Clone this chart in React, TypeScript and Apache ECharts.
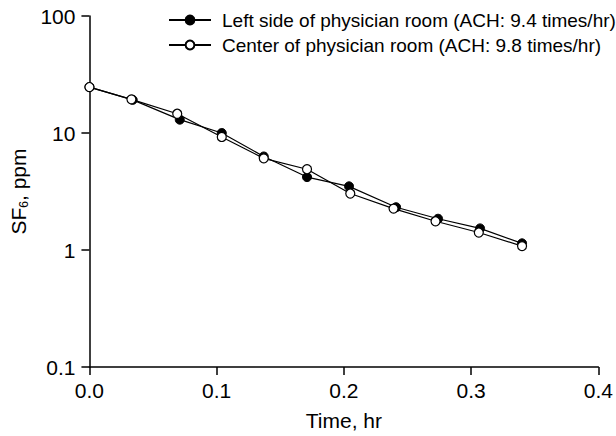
import React, { useEffect, useRef } from "react";
import * as echarts from "echarts";

const seriesNames = [
  "Left side of physician room (ACH: 9.4 times/hr)",
  "Center of physician room (ACH: 9.8 times/hr)",
];
const timeLeft = [0, 0.034, 0.071, 0.104, 0.137, 0.171, 0.204, 0.241, 0.274, 0.307, 0.34];
const sf6Left = [24.7, 19.2, 13.0, 10.0, 6.3, 4.2, 3.5, 2.32, 1.85, 1.53, 1.14];
const timeCenter = [0, 0.033, 0.069, 0.104, 0.137, 0.171, 0.205, 0.239, 0.272, 0.306, 0.34];
const sf6Center = [24.7, 19.4, 14.6, 9.25, 6.07, 4.9, 3.04, 2.26, 1.76, 1.41, 1.08];
const xTicks = { min: 0, max: 0.4, interval: 0.1 };
const yTicks = { min: 0.1, max: 100 };

const FONT = "Liberation Sans, Arial, Helvetica, sans-serif";

export default function App() {
  const ref = useRef<HTMLDivElement>(null);
  useEffect(() => {
    if (!ref.current) return;
    const chart = echarts.init(ref.current, undefined, { renderer: "svg" });
    const left = timeLeft.map((t, i) => [t, sf6Left[i]]);
    const center = timeCenter.map((t, i) => [t, sf6Center[i]]);
    chart.setOption({
      animation: false,
      backgroundColor: "#fff",
      textStyle: { fontFamily: FONT, color: "#000" },
      grid: { left: 86, right: 16, top: 16, bottom: 68, containLabel: false },
      legend: {
        orient: "vertical",
        left: 168,
        top: 10,
        padding: 0,
        itemWidth: 42,
        itemHeight: 11,
        itemGap: 5,
        textStyle: { fontFamily: FONT, fontSize: 19, color: "#000", lineHeight: 20, padding: [0, 0, 0, 6] },
        data: seriesNames,
      },
      xAxis: {
        type: "value",
        min: xTicks.min,
        max: xTicks.max,
        interval: xTicks.interval,
        name: "Time, hr",
        nameLocation: "middle",
        nameGap: 43,
        nameTextStyle: { fontFamily: FONT, fontSize: 21, color: "#000" },
        axisLine: { show: true, lineStyle: { color: "#000", width: 1.5 } },
        axisTick: { show: true, inside: false, length: 8, lineStyle: { color: "#000", width: 1.5 } },
        axisLabel: {
          fontFamily: FONT,
          fontSize: 21,
          color: "#000",
          margin: 13,
          formatter: (v: number) => v.toFixed(1),
        },
        splitLine: { show: false },
      },
      yAxis: {
        type: "log",
        logBase: 10,
        min: yTicks.min,
        max: yTicks.max,
        name: "SF{sub|6}, ppm",
        nameLocation: "middle",
        nameGap: 59,
        nameRotate: 90,
        nameTextStyle: {
          fontFamily: FONT,
          fontSize: 21,
          color: "#000",
          rich: {
            sub: { fontFamily: FONT, fontSize: 12, color: "#000", verticalAlign: "bottom", padding: [10, 0, 0, 0] },
          },
        },
        axisLine: { show: true, lineStyle: { color: "#000", width: 1.5 } },
        axisTick: { show: true, inside: false, length: 8, lineStyle: { color: "#000", width: 1.5 } },
        minorTick: { show: false },
        axisLabel: {
          fontFamily: FONT,
          fontSize: 21,
          color: "#000",
          margin: 14,
          formatter: (v: number) => String(Number(v.toPrecision(3))),
        },
        splitLine: { show: false },
      },
      series: [
        {
          name: seriesNames[0],
          type: "line",
          data: left,
          symbol: "circle",
          symbolSize: 9,
          lineStyle: { color: "#000", width: 1.2 },
          itemStyle: { color: "#000", borderColor: "#000", borderWidth: 1 },
          z: 2,
        },
        {
          name: seriesNames[1],
          type: "line",
          data: center,
          symbol: "circle",
          symbolSize: 9,
          lineStyle: { color: "#000", width: 1.2 },
          itemStyle: { color: "#fff", borderColor: "#000", borderWidth: 1.2 },
          z: 3,
        },
      ],
    });
    return () => chart.dispose();
  }, []);
  return <div ref={ref} style={{ width: 616, height: 436, position: "absolute", left: 0, top: 0 }} />;
}
